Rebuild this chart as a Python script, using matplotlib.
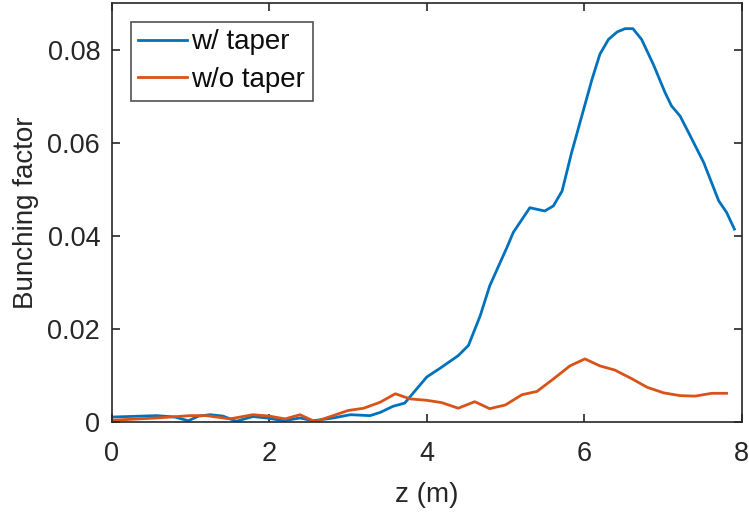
import matplotlib
matplotlib.use("Agg")
import matplotlib.pyplot as plt

z_taper = [0.0, 0.57, 0.8, 0.97, 1.1, 1.25, 1.41, 1.58, 1.79, 1.97, 2.18, 2.39, 2.56, 2.81,
           3.03, 3.28, 3.41, 3.57, 3.72, 3.87, 4.0, 4.17, 4.40, 4.53, 4.68, 4.80, 5.02, 5.10,
           5.31, 5.50, 5.61, 5.72, 5.84, 5.97, 6.10, 6.20, 6.31, 6.42, 6.52, 6.62, 6.73, 6.88,
           7.03, 7.11, 7.22, 7.35, 7.52, 7.71, 7.81, 7.91]
b_taper = [0.0010, 0.0013, 0.0010, 0.0002, 0.0012, 0.0015, 0.0012, 0.0001, 0.0011, 0.0008,
           0.0002, 0.0008, 0.0002, 0.0008, 0.0015, 0.0013, 0.0020, 0.0033, 0.0040, 0.0070,
           0.0096, 0.0115, 0.0142, 0.0164, 0.0228, 0.0292, 0.0375, 0.0407, 0.0460, 0.0453,
           0.0464, 0.0496, 0.0578, 0.0657, 0.0736, 0.0790, 0.0822, 0.0838, 0.0845, 0.0845,
           0.0822, 0.0768, 0.0707, 0.0679, 0.0657, 0.0614, 0.0557, 0.0475, 0.0450, 0.0414]

z_notaper = [0.0, 0.57, 0.99, 1.2, 1.5, 1.79, 2.0, 2.2, 2.39, 2.58, 2.81, 3.0, 3.2, 3.41, 3.6,
             3.79, 4.0, 4.19, 4.40, 4.61, 4.80, 5.0, 5.21, 5.40, 5.61, 5.82, 6.01, 6.20, 6.39,
             6.61, 6.80, 7.01, 7.22, 7.41, 7.62, 7.81]
b_notaper = [0.0003, 0.0008, 0.0013, 0.0013, 0.0006, 0.0015, 0.0012, 0.0006, 0.0015, 0.0000,
             0.0013, 0.0024, 0.0029, 0.0042, 0.0060, 0.0049, 0.0046, 0.0041, 0.0029, 0.0043,
             0.0028, 0.0036, 0.0058, 0.0065, 0.0092, 0.0120, 0.0135, 0.0120, 0.0111, 0.0092,
             0.0074, 0.0062, 0.0056, 0.0055, 0.0061, 0.0061]

series_labels = ["w/ taper", "w/o taper"]
x_ticks = [0, 2, 4, 6, 8]
y_ticks = [0, 0.02, 0.04, 0.06, 0.08]
y_tick_labels = ["0", "0.02", "0.04", "0.06", "0.08"]

plt.rcParams['font.family'] = ['Liberation Sans', 'DejaVu Sans']
dark = (0.15, 0.15, 0.15)

fig = plt.figure(figsize=(7.49, 5.13), dpi=100)
ax = fig.add_axes([0.1495, 0.178, 0.8405, 0.816])

ax.plot(z_taper, b_taper, color=(0, 0.447, 0.741), lw=2.0, label=series_labels[0])
ax.plot(z_notaper, b_notaper, color=(0.85, 0.325, 0.098), lw=2.0, label=series_labels[1])

ax.set_xlim(0, 8)
ax.set_ylim(0, 0.09)
ax.set_xticks(x_ticks)
ax.set_yticks(y_ticks)
ax.set_yticklabels(y_tick_labels)
ax.tick_params(direction='in', length=6, width=1.2, top=True, right=True,
               labelsize=19.5, colors=dark)
ax.tick_params(axis='x', pad=14)
ax.tick_params(axis='y', pad=8.5)
for s in ax.spines.values():
    s.set_color(dark)
    s.set_linewidth(1.2)

ax.set_xlabel("z (m)", fontsize=20, color=dark, labelpad=11)
ax.set_ylabel("Bunching factor", fontsize=20, color=dark, labelpad=6)

leg = ax.legend(loc='upper left', fontsize=20, frameon=True, fancybox=False,
                handlelength=1.75, handletextpad=0.15, borderpad=0.27, labelspacing=0.42,
                borderaxespad=0.68)
leg.get_frame().set_edgecolor(dark)
leg.get_frame().set_linewidth(1.2)
for t in leg.get_texts():
    t.set_color((0.05, 0.05, 0.05))

fig.savefig("out.png", dpi=100)
